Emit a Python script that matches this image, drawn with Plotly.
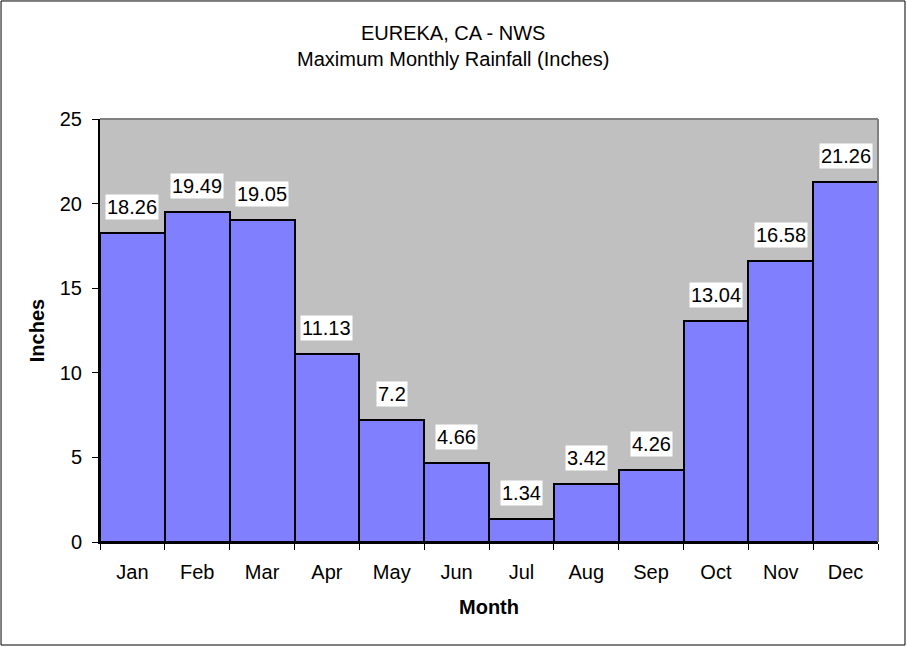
import plotly.graph_objects as go

months = ["Jan", "Feb", "Mar", "Apr", "May", "Jun", "Jul", "Aug", "Sep", "Oct", "Nov", "Dec"]
rainfall = [18.26, 19.49, 19.05, 11.13, 7.2, 4.66, 1.34, 3.42, 4.26, 13.04, 16.58, 21.26]
label_text = ["18.26", "19.49", "19.05", "11.13", "7.2", "4.66", "1.34", "3.42", "4.26", "13.04", "16.58", "21.26"]
title_lines = ["EUREKA, CA - NWS", "Maximum Monthly Rainfall (Inches)"]

font = dict(family="Arial, Liberation Sans, sans-serif", color="black", size=20)

fig = go.Figure()
fig.add_trace(go.Bar(
    x=months, y=rainfall,
    marker=dict(color="#8080FF", line=dict(color="black", width=2)),
    hoverinfo="x+y", showlegend=False
))

# data labels in white boxes above each bar
for m, v, t in zip(months, rainfall, label_text):
    fig.add_annotation(
        x=m, y=v, text=t, showarrow=False, yanchor="bottom", yshift=13,
        bgcolor="white", borderpad=1, font=font
    )

# title, centred on the whole chart rather than the plot area
fig.add_annotation(
    xref="paper", yref="paper", x=0.4537, y=1.1714, xanchor="center", yanchor="middle",
    text="<br>".join(title_lines), showarrow=False, font=font
)

# outer chart frame
fig.add_shape(type="rect", xref="paper", yref="paper",
              x0=-0.1272, x1=1.0347, y0=-0.2435, y1=1.279,
              line=dict(color="black", width=1))
# plot area top/right border
fig.add_shape(type="line", xref="paper", yref="paper", x0=0, x1=1, y0=1, y1=1,
              line=dict(color="#808080", width=2))
fig.add_shape(type="line", xref="paper", yref="paper", x0=1, x1=1, y0=0, y1=1,
              line=dict(color="#808080", width=2))

fig.update_layout(
    width=907, height=647,
    margin=dict(l=100, r=29, t=119, b=105),
    paper_bgcolor="white", plot_bgcolor="#C0C0C0",
    font=font,
    bargap=0,
    xaxis=dict(
        title=dict(text="<b>Month</b>", font=dict(size=20), standoff=18),
        tickson="boundaries", ticks="outside", ticklen=6, tickcolor="black",
        showline=True, linecolor="black", linewidth=2, showgrid=False,
        tickfont=dict(size=20), ticklabelstandoff=11
    ),
    yaxis=dict(
        title=dict(text="<b>Inches</b>", font=dict(size=20), standoff=10),
        range=[0, 25], dtick=5, ticks="outside", ticklen=6, tickcolor="black",
        showline=True, linecolor="black", linewidth=2, showgrid=False,
        zeroline=False, tickfont=dict(size=20), ticklabelstandoff=6
    ),
)

fig.write_html("out.html", config={"displayModeBar": False},
               post_script="document.body.style.margin='0';")
